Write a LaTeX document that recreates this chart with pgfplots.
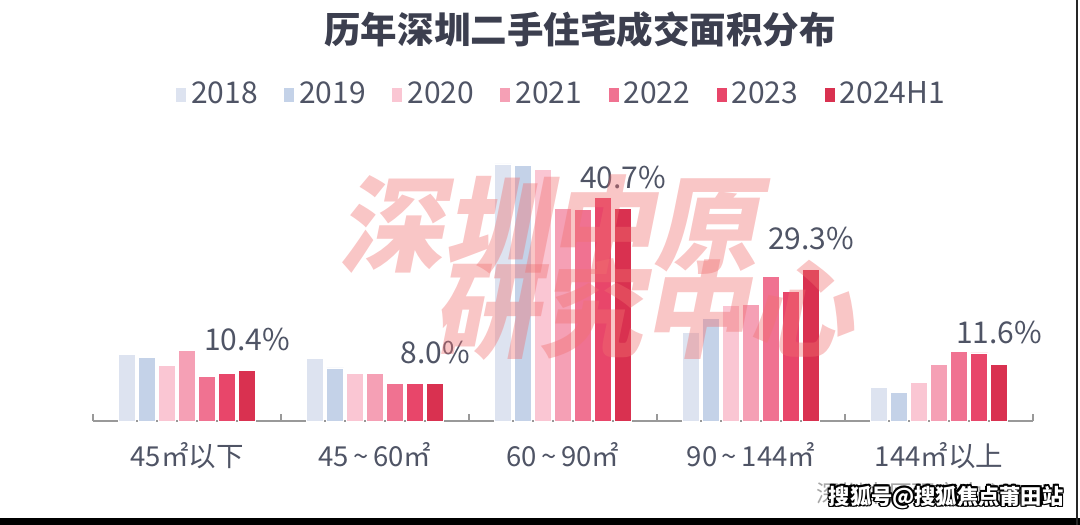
\documentclass[border=0pt]{standalone}
\usepackage{pgfplots}
\pgfplotsset{compat=1.18}
\usetikzlibrary{calc}
\usepackage{fontspec}
\setmainfont{Noto Sans CJK SC}

\definecolor{cA}{HTML}{DDE3F0}
\definecolor{cB}{HTML}{C4D2E8}
\definecolor{cC}{HTML}{FAC6D3}
\definecolor{cD}{HTML}{F5A0B5}
\definecolor{cE}{HTML}{F07291}
\definecolor{cF}{HTML}{E8466A}
\definecolor{cG}{HTML}{D93150}
\definecolor{titlec}{HTML}{3C3F4F}
\definecolor{labc}{HTML}{4F5465}
\definecolor{wmark}{HTML}{F07070}

% share of transactions by unit size (%), categories 0..4
\pgfplotstableread{
x  y18  y19  y20  y21  y22  y23  y24
0  13.5 12.9 11.4 14.2 9.4  9.9  10.4
1  12.7 10.9 9.9  9.9  8.0  8.0  8.0
2  49.0 48.7 48.0 40.7 40.5 42.8 40.7
3  17.5 20.2 22.5 22.8 28.0 25.2 29.3
4  7.3  6.4  8.2  11.6 14.0 13.7 11.6
}\shares

\begin{document}
\begin{tikzpicture}
\begin{axis}[
  name=ax, anchor=south west,
  scale only axis, width=376pt, height=126.4pt,
  ybar=1.2pt, bar width=6.8pt,
  xmin=-0.5, xmax=4.5, ymin=1, ymax=60,
  axis x line=bottom, axis y line=none,
  x axis line style={-, draw=gray!80, line width=0.6pt},
  xtick={0,1,2,3,4},
  xticklabels={45㎡以下, 45\,\textasciitilde\,60㎡, 60\,\textasciitilde\,90㎡, 90\,\textasciitilde\,144㎡, 144㎡以上},
  major tick length=0pt,
  minor xtick={-0.5,0.5,1.5,2.5,3.5,4.5},
  minor tick length=2.8pt, tick align=inside,
  minor tick style={draw=gray!80, line width=0.6pt},
  xticklabel style={font=\fontsize{11}{12}\selectfont, text=labc, yshift=-5pt},
  /pgf/number format/assume math mode=true,
  legend columns=7,
  legend style={at={(0.5,1.032)}, anchor=center, draw=none, fill=none,
    font=\fontsize{12}{13}\selectfont, text=labc,
    /tikz/every even column/.append style={column sep=8.6pt}},
  legend image code/.code={\fill[#1,draw=none] (0pt,-2.7pt) rectangle (4pt,2.7pt);},
  every axis plot/.append style={draw=white, line width=0.3pt},
  clip=false,
]
\addplot[fill=cA] table[x=x,y=y18] {\shares};
\addplot[fill=cB] table[x=x,y=y19] {\shares};
\addplot[fill=cC] table[x=x,y=y20] {\shares};
\addplot[fill=cD] table[x=x,y=y21] {\shares};
\addplot[fill=cE] table[x=x,y=y22] {\shares};
\addplot[fill=cF] table[x=x,y=y23] {\shares};
\addplot[fill=cG, nodes near coords={\pgfmathprintnumber[fixed,precision=1,zerofill]{\pgfplotspointmeta}\%},
  every node near coord/.append style={font=\fontsize{12}{13}\selectfont, text=labc, yshift=4.5pt}]
  table[x=x,y=y24] {\shares};
\legend{2018,2019,2020,2021,2022,2023,2024H1}
\end{axis}
% everything else in reference pixels (0.4pt each), origin at bottom-left
\begin{scope}[shift={($(ax.south west)+(-37.2pt,-41.6pt)$)}, x=0.4pt, y=0.4pt]
\path (0,0) rectangle (1080,525);
\node[font=\fontsize{14.6}{16}\selectfont\bfseries, text=titlec] at (580,495) {历年深圳二手住宅成交面积分布};
% watermark
\begin{scope}[opacity=0.4]
\node[font=\fontsize{42}{42}\selectfont\bfseries, text=wmark, xslant=0.2, transform shape, anchor=west] at (338,300) {深圳中原};
\node[font=\fontsize{42}{42}\selectfont\bfseries, text=wmark, xslant=0.2, transform shape, anchor=west] at (432,216) {研究中心};
\end{scope}
% source and overlay
\node[font=\fontsize{9.5}{10}\selectfont, text=gray!70, anchor=west] at (808,32) {深圳中原研究中心};
\foreach \a in {0,45,...,315}
  \node[font=\fontsize{8.5}{9}\selectfont\bfseries, text=black, anchor=west] at ($(820,28)+(\a:0.7pt)$) {搜狐号@搜狐焦点莆田站};
\node[font=\fontsize{8.5}{9}\selectfont\bfseries, text=white, anchor=west] at (820,28) {搜狐号@搜狐焦点莆田站};
\fill[black] (0,0) rectangle (1080,7);
\fill[black!85] (1076,0) rectangle (1078,525);
\end{scope}
\end{tikzpicture}
\end{document}
